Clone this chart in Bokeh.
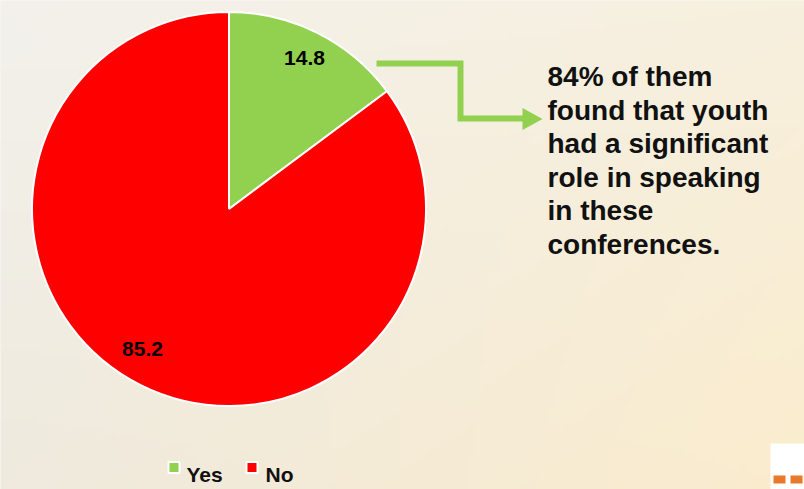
import numpy as np
from bokeh.plotting import figure
from bokeh.models import Range1d, ColumnDataSource
from bokeh.core.properties import value
from bokeh.embed import file_html
from bokeh.resources import INLINE

# ---- data ----
categories = ["Yes", "No"]
values = [14.8, 85.2]
colors = ["#92D050", "#FF0000"]
note_lines = ["84% of them", "found that youth", "had a significant",
              "role in speaking", "in these", "conferences."]

FONT = value("Liberation Sans")
W, H = 804, 489
p = figure(width=W, height=H, x_range=Range1d(0, W), y_range=Range1d(0, H),
           output_backend="svg", toolbar_location=None, min_border=0)
p.axis.visible = False
p.grid.visible = False
p.outline_line_color = None
p.border_fill_color = "#F1EEE6"
p.background_fill_color = "#F1EEE6"


def Y(ry):
    return H - ry


# ---- background gradient ----
ny, nx = 98, 161
fx = np.linspace(0, 1, nx)[None, :]
fy = np.linspace(0, 1, ny)[:, None]  # 0 = bottom
TL = np.array([243, 241, 236.0]); TR = np.array([247, 240, 222.0])
BL = np.array([239, 234, 222.0]); BR = np.array([251, 236, 205.0])
col = ((1 - fx)[..., None] * (fy[..., None] * TL + (1 - fy)[..., None] * BL)
       + fx[..., None] * (fy[..., None] * TR + (1 - fy)[..., None] * BR))
img = np.empty((ny, nx), dtype=np.uint32)
view = img.view(dtype=np.uint8).reshape((ny, nx, 4))
view[..., :3] = np.clip(col, 0, 255).astype(np.uint8)
view[..., 3] = 255
p.image_rgba(image=[img], x=0, y=0, dw=W, dh=H)

# ---- pie ----
vals = np.array(values)
frac = vals / vals.sum()
cum_after = np.cumsum(frac)
cum_before = cum_after - frac
end = np.pi / 2 - 2 * np.pi * cum_before
start = np.pi / 2 - 2 * np.pi * cum_after
src = ColumnDataSource(dict(start=start, end=end, color=colors, cat=categories))
cx, cy, R = 228.5, 208.5, 197
p.wedge(x=cx, y=Y(cy), radius=R, start_angle="start", end_angle="end",
        direction="anticlock", fill_color="color", line_color="white",
        line_width=2, source=src)

# slice labels
lab_x = [304, 142]
lab_y = [Y(57.5), Y(348)]
p.text(x=lab_x, y=lab_y, text=[f"{v:.1f}" for v in values], text_font=FONT,
       text_font_style="bold", text_font_size="21px", text_align="center",
       text_baseline="middle", text_color="black")

# ---- arrow ----
green = colors[0]
p.line(x=[376, 460, 460, 524], y=[Y(63), Y(63), Y(118), Y(118)],
       line_width=6, line_color=green, line_join="miter")
p.patch(x=[522, 542, 522], y=[Y(107.5), Y(118.5), Y(129.5)],
        fill_color=green, line_color=None)

# ---- annotation ----
p.text(x=[547] * len(note_lines),
       y=[Y(76 + 33.6 * i) for i in range(len(note_lines))],
       text=note_lines, text_font=FONT, text_font_style="bold",
       text_font_size="28px", text_align="left", text_baseline="alphabetic",
       text_color="#111111")

# ---- legend ----
p.rect(x=[173.5, 251.5], y=[Y(467)] * 2, width=11, height=11,
       fill_color=colors, line_color="white", line_width=2)
p.text(x=[186, 265], y=[Y(474)] * 2, text=categories, text_font=FONT,
       text_font_style="bold", text_font_size="21px", text_align="left",
       text_baseline="alphabetic", text_color="#111111")

# ---- corner decoration ----
p.quad(left=[770], right=[804], bottom=[Y(489)], top=[Y(443)],
       fill_color="white", line_color=None)
p.quad(left=[773, 790], right=[785, 802], bottom=[Y(483)] * 2, top=[Y(475)] * 2,
       fill_color="#E8782A", line_color=None)

open("out.html", "w").write(file_html(p, INLINE))
